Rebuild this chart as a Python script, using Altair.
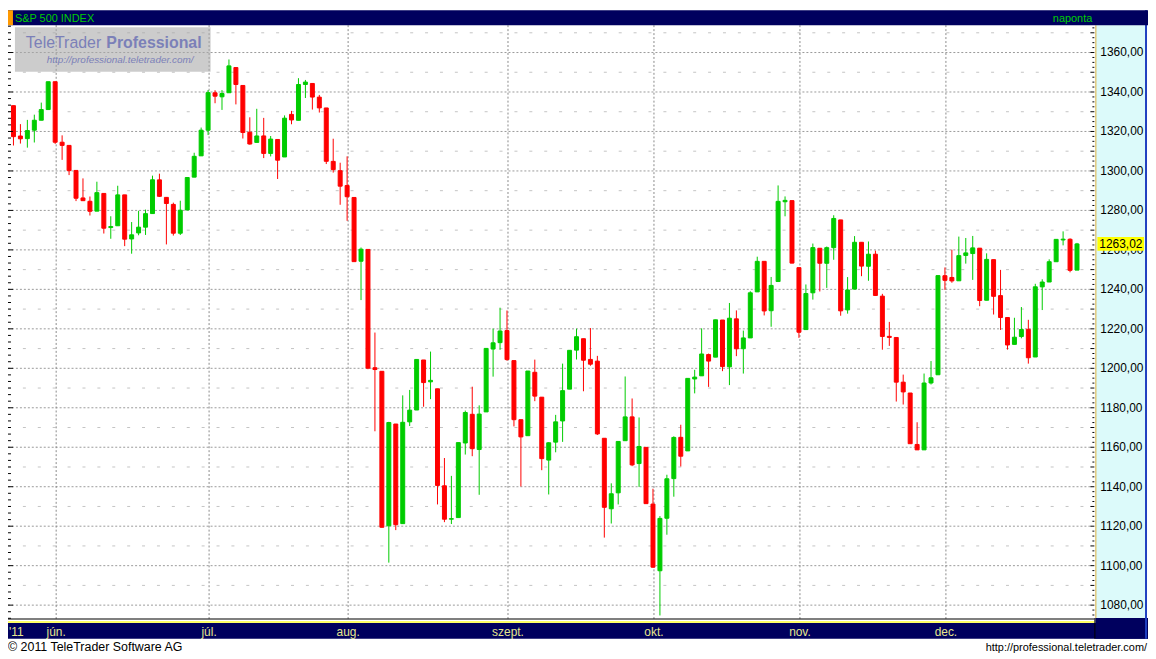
import altair as alt
import pandas as pd
import numpy as np

# ---- daily S&P 500 candles, 23 May 2011 .. 29 Dec 2011 ----
OPEN = [1333.07, 1317.70, 1316.36, 1320.64, 1325.69, 1331.10,
        1345.20, 1314.55, 1312.94, 1300.26, 1286.31, 1284.63, 1279.63, 1288.60, 1271.31, 1272.22,
        1287.87, 1265.53, 1268.58, 1271.50, 1278.40, 1295.48, 1286.60, 1283.04, 1268.44, 1280.21,
        1296.85, 1307.64,
        1320.64, 1339.59, 1337.56, 1339.62, 1352.39, 1343.31, 1319.61, 1314.45, 1317.74, 1308.87,
        1315.94, 1307.07, 1328.66, 1325.65, 1343.80, 1344.32, 1337.39, 1331.91, 1304.84, 1300.12,
        1292.59, 1286.56, 1254.25, 1260.23, 1200.28, 1198.48, 1120.23, 1171.77, 1121.30, 1172.87,
        1178.86, 1204.22, 1193.15, 1189.62, 1140.47, 1123.55, 1124.36, 1162.16, 1176.69, 1158.85,
        1177.91, 1209.76, 1213.00,
        1219.12, 1203.90, 1173.97, 1165.85, 1197.98, 1185.37, 1153.50, 1162.59, 1173.32, 1189.44,
        1209.21, 1214.99, 1204.50, 1203.63, 1164.55, 1128.82, 1136.91, 1163.32, 1175.39, 1151.74,
        1159.93,
        1131.21, 1097.42, 1124.03, 1144.11, 1165.03, 1158.15, 1194.60, 1196.19, 1206.96, 1205.65,
        1224.47, 1200.75, 1225.06, 1209.92, 1215.39, 1238.72, 1254.19, 1229.17, 1243.97, 1284.39,
        1284.96,
        1251.00, 1219.62, 1238.25, 1260.82, 1253.21, 1261.12, 1275.18, 1229.59, 1240.12, 1263.85,
        1251.70, 1257.81, 1236.56, 1216.19, 1215.62, 1192.98, 1187.48, 1161.41, 1158.67, 1192.56,
        1196.72,
        1246.91, 1246.03, 1244.33, 1257.19, 1258.14, 1260.87, 1234.48, 1255.05, 1236.83, 1225.73,
        1212.12, 1216.09, 1219.74, 1205.72, 1241.25, 1243.72, 1254.00, 1265.02, 1265.38, 1249.75]
HIGH = [1333.07, 1323.72, 1325.86, 1328.51, 1334.62, 1345.20,
        1345.20, 1318.03, 1312.94, 1300.26, 1296.22, 1287.04, 1294.54, 1288.60, 1277.04, 1292.50,
        1287.87, 1274.11, 1279.82, 1280.42, 1297.62, 1298.61, 1286.79, 1283.93, 1284.91, 1296.80,
        1309.21, 1321.97,
        1341.01, 1340.89, 1340.94, 1356.48, 1352.39, 1343.31, 1327.17, 1331.48, 1326.88, 1317.70,
        1315.94, 1328.14, 1330.43, 1347.00, 1346.10, 1344.32, 1338.51, 1331.91, 1316.32, 1304.16,
        1307.38, 1286.58, 1261.20, 1260.23, 1218.11, 1198.48, 1172.88, 1171.77, 1186.29, 1189.04,
        1204.49, 1204.22, 1208.47, 1189.62, 1154.54, 1145.49, 1162.35, 1178.56, 1190.68, 1181.23,
        1210.28, 1220.10, 1230.71,
        1229.29, 1203.90, 1173.97, 1198.62, 1204.40, 1185.37, 1162.52, 1176.41, 1202.38, 1209.11,
        1220.06, 1214.99, 1220.39, 1206.30, 1164.55, 1141.72, 1162.95, 1195.86, 1184.71, 1175.09,
        1159.93,
        1138.99, 1125.12, 1146.07, 1165.55, 1171.40, 1194.91, 1199.24, 1220.25, 1207.46, 1224.61,
        1224.47, 1233.10, 1229.33, 1219.11, 1239.03, 1256.55, 1254.19, 1246.28, 1292.66, 1287.08,
        1284.96,
        1251.00, 1242.48, 1263.21, 1260.82, 1261.70, 1277.55, 1275.18, 1246.22, 1266.98, 1263.85,
        1264.25, 1259.61, 1237.73, 1223.51, 1215.62, 1196.81, 1187.48, 1172.66, 1197.35, 1203.67,
        1247.11,
        1251.09, 1260.08, 1266.73, 1266.03, 1267.06, 1260.87, 1258.25, 1255.05, 1249.86, 1225.73,
        1225.60, 1231.04, 1224.57, 1242.82, 1245.09, 1255.22, 1265.42, 1269.37, 1265.85, 1263.54]
LOW = [1312.88, 1313.87, 1311.80, 1314.41, 1325.69, 1331.10,
       1313.71, 1305.61, 1297.90, 1284.72, 1284.74, 1277.42, 1279.63, 1268.28, 1265.64, 1272.22,
       1261.90, 1258.07, 1267.40, 1267.56, 1278.40, 1286.79, 1262.76, 1267.24, 1267.53, 1280.21,
       1296.85, 1307.64,
       1318.18, 1334.30, 1330.92, 1339.62, 1333.71, 1316.42, 1313.33, 1314.45, 1306.51, 1307.35,
       1295.92, 1307.07, 1323.65, 1325.65, 1336.95, 1331.09, 1329.59, 1303.49, 1299.16, 1282.86,
       1274.73, 1254.03, 1234.56, 1199.54, 1168.09, 1119.28, 1101.54, 1118.01, 1121.30, 1170.74,
       1178.86, 1180.53, 1184.36, 1131.03, 1122.05, 1121.09, 1124.36, 1156.30, 1155.47, 1135.91,
       1177.91, 1195.77, 1209.35,
       1203.85, 1170.56, 1140.13, 1165.85, 1183.34, 1148.37, 1136.07, 1157.44, 1162.73, 1189.44,
       1204.46, 1188.36, 1201.29, 1166.21, 1114.22, 1121.36, 1131.03, 1163.32, 1150.40, 1139.93,
       1131.34,
       1098.92, 1074.77, 1115.68, 1134.95, 1150.26, 1158.15, 1187.30, 1196.19, 1190.58, 1205.65,
       1198.55, 1191.48, 1206.16, 1197.34, 1215.39, 1238.72, 1226.79, 1221.06, 1243.97, 1277.01,
       1253.16,
       1215.42, 1219.62, 1234.81, 1238.92, 1240.75, 1254.99, 1226.64, 1227.70, 1240.12, 1246.68,
       1244.34, 1236.62, 1209.43, 1211.36, 1183.16, 1181.65, 1161.79, 1158.66, 1158.67, 1191.80,
       1196.72,
       1239.73, 1243.35, 1244.33, 1253.03, 1244.80, 1231.47, 1234.48, 1227.25, 1219.43, 1209.47,
       1212.12, 1215.20, 1202.37, 1205.72, 1229.51, 1243.72, 1254.00, 1262.30, 1248.64, 1249.75]
CLOSE = [1317.37, 1316.28, 1320.47, 1325.69, 1331.10, 1345.20,
         1314.55, 1312.94, 1300.16, 1286.17, 1284.94, 1279.56, 1289.00, 1270.98, 1271.83, 1287.87,
         1265.42, 1267.64, 1271.50, 1278.36, 1295.52, 1287.14, 1283.50, 1268.45, 1280.10, 1296.67,
         1307.41, 1320.64,
         1339.67, 1337.88, 1339.22, 1353.22, 1343.80, 1319.49, 1313.64, 1317.72, 1308.87, 1316.14,
         1305.44, 1326.73, 1325.84, 1343.80, 1345.02, 1337.43, 1331.94, 1304.89, 1300.67, 1292.28,
         1286.94, 1254.05, 1260.34, 1200.07, 1199.38, 1119.46, 1172.53, 1120.76, 1172.64, 1178.81,
         1204.49, 1192.76, 1193.89, 1140.65, 1123.53, 1123.82, 1162.35, 1177.60, 1159.27, 1176.80,
         1210.08, 1212.92, 1218.89,
         1204.42, 1173.97, 1165.24, 1198.62, 1185.90, 1154.23, 1162.27, 1172.87, 1188.68, 1209.11,
         1216.01, 1204.09, 1202.09, 1166.76, 1129.56, 1136.43, 1162.95, 1175.38, 1151.06, 1160.40,
         1131.42,
         1099.23, 1123.95, 1144.03, 1164.97, 1155.46, 1194.89, 1195.54, 1207.25, 1203.66, 1224.58,
         1200.86, 1225.38, 1209.88, 1215.39, 1238.25, 1254.19, 1229.05, 1242.00, 1284.59, 1285.09,
         1253.30,
         1218.28, 1237.90, 1261.15, 1253.23, 1261.12, 1275.92, 1229.10, 1239.69, 1263.85, 1251.78,
         1257.81, 1236.91, 1216.13, 1215.65, 1192.98, 1188.04, 1161.79, 1158.67, 1192.55, 1195.19,
         1246.96,
         1244.58, 1244.28, 1257.08, 1258.47, 1261.01, 1234.35, 1255.19, 1236.47, 1225.73, 1211.82,
         1215.75, 1219.66, 1205.35, 1241.30, 1243.72, 1254.00, 1265.33, 1265.43, 1249.64, 1263.02]

MONTH_LABELS = ["jún.", "júl.", "aug.", "szept.", "okt.", "nov.", "dec."]
MONTH_START = [6, 28, 48, 71, 92, 113, 134]      # candle index of first trading day
PRICE_TICKS = list(range(1080, 1361, 20))
MINOR_LEVELS = list(range(1090, 1371, 20))
YEAR_LABEL = "'11"
TITLE = "S&P 500 INDEX"
PERIOD = "naponta"

# ---- geometry ----
W, H = 1094, 599
PXC = 7.0                       # pixels per candle
X0 = -5.5 / PXC
X1 = X0 + W / PXC
PX_PER_PT = 1.9875
Y1 = 1373.86
Y0 = Y1 - H / PX_PER_PT

FONT = "Liberation Sans"
NAVY = "#00005e"
GREEN_TXT = "#00cc00"

n = len(OPEN)
df = pd.DataFrame({"i": range(n), "o": OPEN, "h": HIGH, "l": LOW, "c": CLOSE})
df["dir"] = np.where(df["c"] >= df["o"], "up", "down")

xs = alt.Scale(domain=[X0, X1], nice=False, zero=False, padding=0)
ys = alt.Scale(domain=[Y0, Y1], nice=False, zero=False, padding=0)


def X(f):
    return alt.X(f, type="quantitative", scale=xs, axis=None)


def Y(f):
    return alt.Y(f, type="quantitative", scale=ys, axis=None)


cscale = alt.Scale(domain=["up", "down"], range=["#00cc00", "#ff0000"])
one = pd.DataFrame({"k": [0]})


def box(x, x2, y, y2, color, opacity=1.0):
    return alt.Chart(one).mark_rect(color=color, opacity=opacity).encode(
        x=alt.value(x), x2=alt.value(x2), y=alt.value(y), y2=alt.value(y2))


def label(text, x, y, size=11, color="black", align="left", weight="normal", style="normal"):
    return alt.Chart(one).mark_text(
        text=text, font=FONT, fontSize=size, color=color, align=align,
        baseline="alphabetic", fontWeight=weight, fontStyle=style).encode(
        x=alt.value(x), y=alt.value(y))


layers = []

# plot background and grid
layers.append(box(0, W, 0, H, "white"))
minor_df = pd.DataFrame({"v": MINOR_LEVELS})
layers.append(alt.Chart(minor_df).mark_rule(color="#c4c4c4", strokeDash=[3, 12], strokeWidth=1).encode(
    y=Y("v"), x=alt.value(0), x2=alt.value(W - 4)))
major_df = pd.DataFrame({"v": PRICE_TICKS})
layers.append(alt.Chart(major_df).mark_rule(color="#9a9a9a", strokeDash=[2, 2], strokeWidth=1).encode(
    y=Y("v"), x=alt.value(0), x2=alt.value(W - 4)))
month_df = pd.DataFrame({"i": MONTH_START, "lab": MONTH_LABELS})
layers.append(alt.Chart(month_df).mark_rule(color="#8a8a8a", strokeDash=[2, 2], strokeWidth=1, xOffset=1).encode(
    x=X("i"), y=alt.value(-8), y2=alt.value(598)))

# logo box
layers.append(box(7, 204, 2, 47, "#aaaaaa", 0.6))
layers.append(label("TeleTrader", 18, 23, size=16, color="#7b80b8"))
layers.append(label("Professional", 99, 23, size=16, color="#7b80b8", weight="bold"))
layers.append(label("http://professional.teletrader.com/", 39, 38, size=10, color="#7b80b8", style="italic"))

# candles
base = alt.Chart(df)
layers.append(base.mark_rule(strokeWidth=1).encode(
    x=X("i"), y=Y("l"), y2=alt.Y2("h"),
    color=alt.Color("dir:N", scale=cscale, legend=None)))
layers.append(base.mark_bar(width=4, strokeWidth=1).encode(
    x=X("i"), y=Y("o"), y2=alt.Y2("c"),
    color=alt.Color("dir:N", scale=cscale, legend=None),
    stroke=alt.Stroke("dir:N", scale=cscale, legend=None)))

# left ruler ticks
lt = [1080 + k * 20 / 6 for k in range(-3, 90)]
left_df = pd.DataFrame({"v": [v for v in lt if Y0 <= v <= Y1]})
left_df["long"] = ((left_df["v"] - 1080).round(3) % 20 == 0)
layers.append(alt.Chart(left_df[~left_df["long"]]).mark_rule(color="black").encode(
    y=Y("v"), x=alt.value(0), x2=alt.value(3)))
layers.append(alt.Chart(left_df[left_df["long"]]).mark_rule(color="black").encode(
    y=Y("v"), x=alt.value(0), x2=alt.value(5)))

# bottom header lines and band
layers.append(box(0, W, 597.5, 598.5, "black"))
layers.append(box(0, W, 600, 602, "#ffff66"))
layers.append(box(0, W + 54, 602, 618, NAVY))
layers.append(alt.Chart(month_df).mark_text(font=FONT, fontSize=12, color="#e6e68c",
                                            baseline="alphabetic", align="center", dx=1).encode(
    x=X("i"), y=alt.value(615), text="lab:N"))
layers.append(label(YEAR_LABEL, 1, 615, size=12, color="#e6e68c"))

# right price panel
layers.append(box(W + 1, W + 51, 0, 597, "#dcfafa"))
layers.append(box(W + 1, W + 54, 597, 618, NAVY))
layers.append(box(W, W + 1, 597, 618, "black"))
layers.append(box(W + 1, W + 2, 0, 597, "#e0b040"))
layers.append(box(W + 51, W + 53, -15, 618, "#2040c0"))

rt = [1080 + k * 2.5 for k in range(-4, 122)]
right_df = pd.DataFrame({"v": [v for v in rt if Y0 + 0.5 <= v <= Y1 - 0.5]})
right_df["m"] = ((right_df["v"] - 1080) % 10 == 0)
layers.append(alt.Chart(right_df[~right_df["m"]]).mark_rule(color="black").encode(
    y=Y("v"), x=alt.value(W - 2), x2=alt.value(W)))
layers.append(alt.Chart(right_df[right_df["m"]]).mark_rule(color="black").encode(
    y=Y("v"), x=alt.value(W - 4), x2=alt.value(W)))

tick_df = pd.DataFrame({"v": PRICE_TICKS})
tick_df["lab"] = [f"{v:.2f}".replace(".", ",") for v in PRICE_TICKS]
layers.append(alt.Chart(tick_df).mark_text(font=FONT, fontSize=12, color="black",
                                           align="left", baseline="middle").encode(
    y=Y("v"), x=alt.value(W + 6), text="lab:N"))

last_df = pd.DataFrame({"v": [CLOSE[-1]], "lab": [f"{CLOSE[-1]:.2f}".replace(".", ",")]})
layers.append(alt.Chart(last_df).mark_rect(color="#ffff00", yOffset=-7, y2Offset=7).encode(
    y=Y("v"), y2=alt.Y2("v"), x=alt.value(W + 3), x2=alt.value(W + 50)))
layers.append(alt.Chart(last_df).mark_text(font=FONT, fontSize=12, color="black",
                                           align="left", baseline="middle").encode(
    y=Y("v"), x=alt.value(W + 5), text="lab:N"))

# top header
layers.append(box(0, W + 54, -15, 0, NAVY))
layers.append(box(0, 5, -15, 0, "#ff9900"))
layers.append(label(TITLE, 7, -3, size=11, color=GREEN_TXT))
layers.append(label(PERIOD, 1072, -3, size=11, color=GREEN_TXT, align="center"))

# footer
layers.append(label("\u00a9 2011  TeleTrader Software AG", 0, 630, size=12.5, color="black"))
layers.append(label("http://professional.teletrader.com/", W + 53, 630, size=11, color="black", align="right"))

chart = alt.layer(*layers).properties(
    width=W, height=H,
    padding={"left": 0, "top": 15, "right": 54, "bottom": 37},
    autosize=alt.AutoSizeParams(type="none"),
    background="white",
).configure_view(stroke=None)

chart.save("out.html", embed_options={"renderer": "svg", "actions": False})
